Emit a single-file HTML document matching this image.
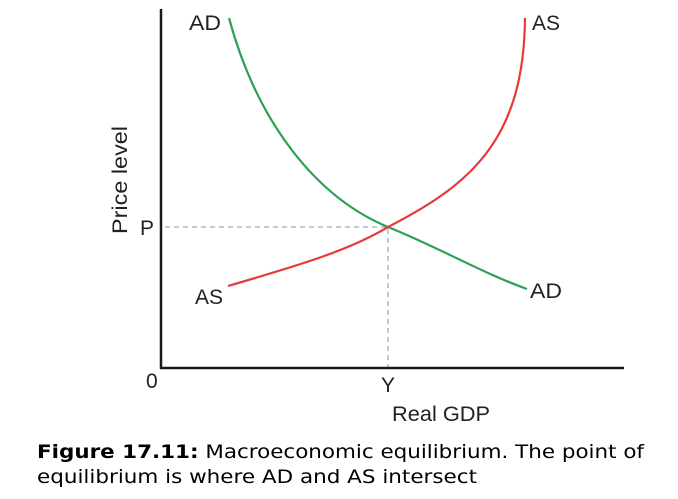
<!DOCTYPE html>
<html><head><meta charset="utf-8"><style>
html,body{margin:0;padding:0;background:#fff;width:678px;height:499px;overflow:hidden}
svg{display:block}
</style></head><body>
<svg width="678" height="499" viewBox="0 0 678 499" xmlns="http://www.w3.org/2000/svg">
<g stroke="#8fb4c0" stroke-width="1.3" stroke-dasharray="5,4" fill="none">
<line x1="165" y1="227" x2="388" y2="227"/>
<line x1="388" y1="229" x2="388" y2="367"/>
</g>
<g stroke="#1a1a1a" stroke-width="2.5" fill="none">
<line x1="161" y1="9" x2="161" y2="369"/>
<line x1="160" y1="368" x2="624" y2="368"/>
</g>
<path d="M229,18 C258,125 318,198 388,227 C440,248 480,272 527,289" stroke="#2aa052" stroke-width="2.2" fill="none"/>
<path d="M228,286 C300,265 350,250 388,227 C470,185 524,140 525,18" stroke="#e8393a" stroke-width="2.2" fill="none"/>
<g font-family="Liberation Sans, sans-serif" font-size="21" fill="#222">
<text x="189" y="30" textLength="32" lengthAdjust="spacingAndGlyphs">AD</text>
<text x="532" y="30" textLength="28" lengthAdjust="spacingAndGlyphs">AS</text>
<text x="195" y="304" textLength="28" lengthAdjust="spacingAndGlyphs">AS</text>
<text x="530" y="298" textLength="32" lengthAdjust="spacingAndGlyphs">AD</text>
<text x="140" y="235">P</text>
<text x="146" y="388">0</text>
<text x="381" y="392">Y</text>
<text x="392" y="421" textLength="98" lengthAdjust="spacingAndGlyphs">Real GDP</text>
<text transform="translate(127,180) rotate(-90)" text-anchor="middle" textLength="108" lengthAdjust="spacingAndGlyphs">Price level</text>
</g>
<g font-family="DejaVu Sans, Verdana, sans-serif" font-size="19" fill="#000">
<text x="37" y="458" textLength="607" lengthAdjust="spacingAndGlyphs"><tspan font-weight="bold">Figure 17.11:</tspan> Macroeconomic equilibrium. The point of</text>
<text x="37" y="483" textLength="440" lengthAdjust="spacingAndGlyphs">equilibrium is where AD and AS intersect</text>
</g>
</svg>
</body></html>
